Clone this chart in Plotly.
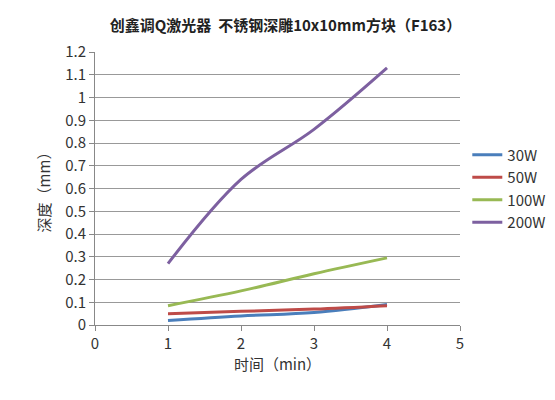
import plotly.graph_objects as go

x = [1, 2, 3, 4]
names = ["30W", "50W", "100W", "200W"]
colors = ["#4a7ebb", "#be4b48", "#98b954", "#7d60a0"]
values = [
    [0.02, 0.04, 0.055, 0.09],
    [0.05, 0.06, 0.07, 0.085],
    [0.085, 0.15, 0.225, 0.295],
    [0.27, 0.64, 0.86, 1.13],
]

fig = go.Figure()
for n, c, v in zip(names, colors, values):
    fig.add_trace(go.Scatter(x=x, y=v, name=n, mode="lines",
                             line=dict(color=c, width=3, shape="spline")))

fig.update_layout(
    width=555, height=400,
    paper_bgcolor="white", plot_bgcolor="white",
    margin=dict(l=87, r=100, t=44, b=83),
    font=dict(family="Noto Sans CJK SC", color="#333333"),
    title=dict(text="<b>创鑫调Q激光器  不锈钢深雕10x10mm方块（F163）</b>",
               x=0.5, xanchor="center", y=0.97, font=dict(size=15, color="#222222")),
    legend=dict(x=1.02, y=0.5, yanchor="middle", font=dict(size=15), tracegroupgap=8,
                itemwidth=30),
    xaxis=dict(range=[0, 5], dtick=1, showgrid=False, showline=True, linecolor="#888888",
               ticks="outside", ticklen=5, tickcolor="#888888", tickfont=dict(size=15),
               title=dict(text="时间（min）", font=dict(size=15), standoff=4), zeroline=False),
    yaxis=dict(range=[0, 1.2], dtick=0.1, showgrid=True, gridcolor="#999999", gridwidth=1,
               showline=True, linecolor="#888888", ticks="outside", ticklen=5, tickcolor="#888888",
               tickfont=dict(size=15), zeroline=False,
               title=dict(text="深度（mm）", font=dict(size=15), standoff=10)),
)
fig.write_html("out.html")
